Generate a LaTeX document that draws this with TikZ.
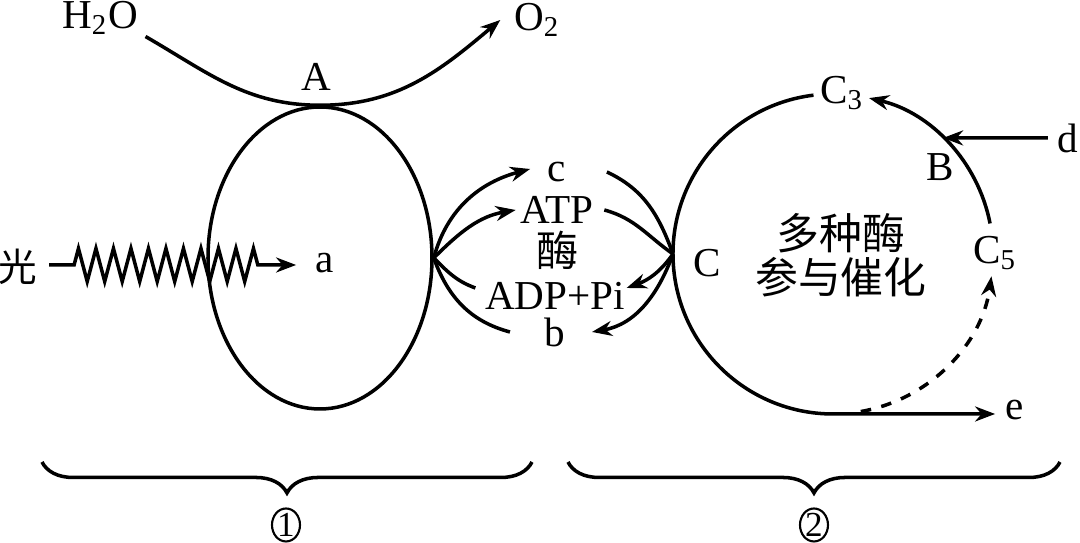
\documentclass[tikz,border=0pt]{standalone}
\usepackage{fontspec}
\setmainfont{Liberation Serif}
\newfontfamily\cjk{Noto Sans CJK SC}
\usetikzlibrary{arrows.meta,shapes.geometric,decorations.pathreplacing,decorations.pathmorphing}

\begin{document}
\begin{tikzpicture}[x=0.1mm,y=0.1mm,line width=1pt,>={Stealth[length=2mm,width=1.5mm]},
  lbl/.style={inner sep=0pt,font=\fontsize{11.7}{14}\selectfont},
  zh/.style={inner sep=0pt,font=\cjk\fontsize{12}{12.6}\selectfont},
  num/.style={draw,ellipse,inner sep=0pt,minimum width=2.8mm,minimum height=3.3mm,line width=0.6pt,font=\fontsize{10}{12}\selectfont},
  curly/.style={decorate,decoration={brace,mirror,amplitude=3.1mm}}]
  \useasboundingbox (0,0) rectangle (1080,543);

  % light reaction
  \node[draw,ellipse,inner sep=0pt,minimum width=22.4mm,minimum height=30.2mm] (thyl) at (320,285) {};
  \node[lbl] (h2o) at (100,525) {H\textsubscript{2}O};
  \node[lbl] (o2) at (537,523) {O\textsubscript{2}};
  \node[lbl] (A) at (316,466) {A};
  \node[zh,font=\cjk\fontsize{11}{12}\selectfont] (guang) at (18,276) {光};
  \node[lbl] (a) at (325,280) {a};

  \draw[->] ([shift={(6,0)}]h2o.south east) to[out=-30,in=180] (thyl.north)
    to[out=0,in=220] ([shift={(-12,0)}]o2.west);
  \draw[->,decorate,decoration={zigzag,segment length=1.75mm,amplitude=1.65mm,
    pre length=2.5mm,post length=3.8mm}] ([shift={(10,2)}]guang.east) -- ([shift={(-18,-2)}]a.west);

  % ATP / ADP exchange
  \node[lbl] (c) at (557,371) {c};
  \node[lbl] (atp) at (557,333) {ATP};
  \node[zh] (mei) at (558,293) {酶};
  \node[lbl] (adp) at (555,247) {ADP+Pi};
  \node[lbl] (b) at (555,211) {b};
  \coordinate (chlo) at (833,289);
  \coordinate (cw) at ([shift={(180:160)}]chlo);

  \draw[->] (thyl.east) to[out=75,in=195] ([shift={(-16,3)}]c.west);
  \draw ([shift={(39,0)}]c.east) to[out=-25,in=110] (cw);
  \draw[->] (thyl.east) to[out=45,in=190] ([shift={(-3,0)}]atp.west);
  \draw ([shift={(9,0)}]atp.east) to[out=-15,in=145] (cw);
  \draw (thyl.east) to[out=-45,in=160] ([shift={(-8,8)}]adp.west);
  \draw[->] (cw) to[out=-125,in=20] ([shift={(0,8)}]adp.east);
  \draw (thyl.east) to[out=-70,in=165] ([shift={(-33,0)}]b.west);
  \draw[->] (cw) to[out=-110,in=10] ([shift={(25,0)}]b.east);

  % dark reaction
  \node[lbl] (c3) at (842,450) {C\textsubscript{3}};
  \node[lbl] (c5) at (995,290) {C\textsubscript{5}};
  \node[lbl] (B) at (940,376) {B};
  \node[lbl] (C) at (707,280) {C};
  \node[lbl] (d) at (1068,405) {d};
  \node[lbl] (e) at (1015,133) {e};
  \node[zh,align=center,font=\cjk\fontsize{12.2}{12.6}\selectfont] (cat) at (841,288) {多种酶\\参与催化};

  \draw[->] ([shift={(97:160)}]chlo) arc[start angle=97,end angle=270,radius=160] -- ([shift={(-9,-4)}]e.west);
  \draw[->] ([shift={(11:160)}]chlo) arc[start angle=11,end angle=77,radius=160];
  \draw[->,dashed] ([shift={(-80:160)}]chlo) arc[start angle=-80,end angle=-8,radius=160];
  \draw[->] ([shift={(-8,0)}]d.west) -- ([shift={(46.5:160)}]chlo);

  % braces
  \coordinate (br1a) at (42,81);
  \coordinate (br1b) at (532,81);
  \coordinate (br2a) at (568,81);
  \coordinate (br2b) at (1060,81);
  \draw[curly] (br1a) -- (br1b);
  \draw[curly] (br2a) -- (br2b);
  \node[num] (n1) at (286,18) {1};
  \node[num] (n2) at (814,18) {2};
\end{tikzpicture}
\end{document}
